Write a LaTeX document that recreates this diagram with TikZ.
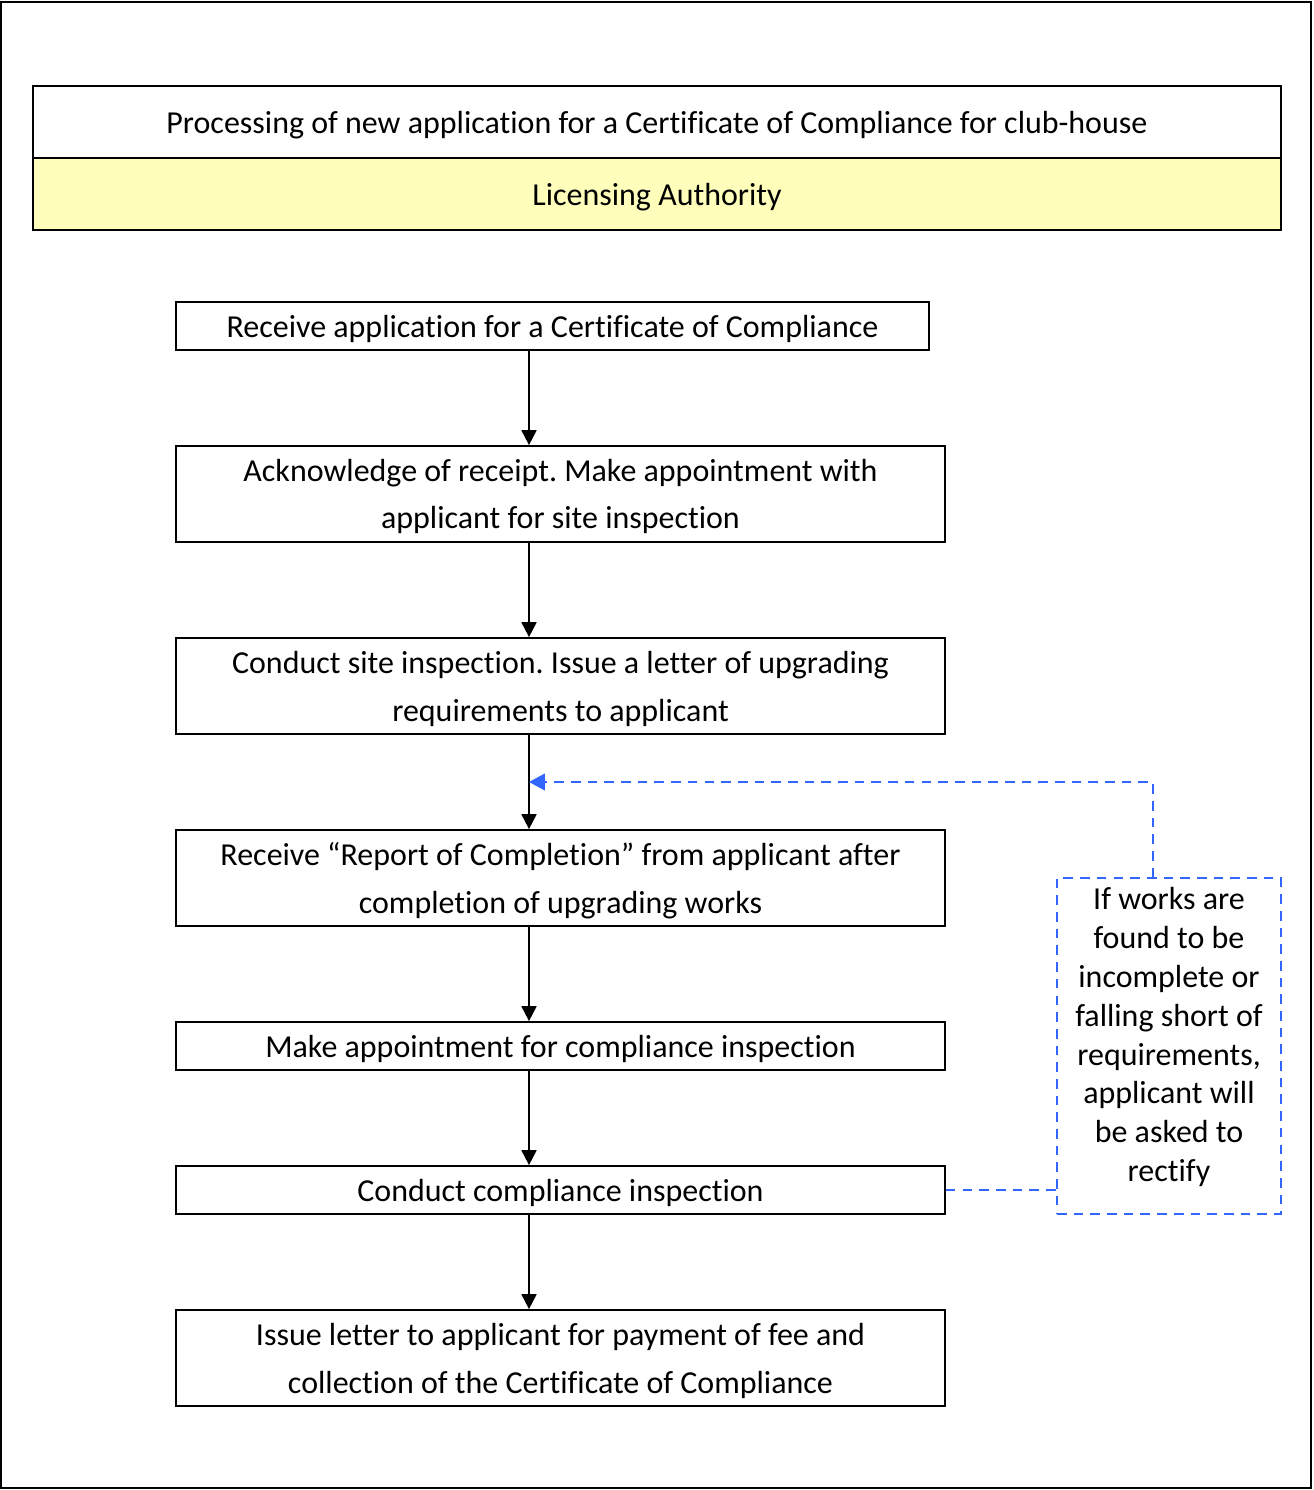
\documentclass[tikz,border=0pt]{standalone}
\usepackage{fontspec}
\setmainfont[Ligatures=NoCommon]{Carlito}
\usepackage{tikz}
\usetikzlibrary{arrows.meta}
\usepackage{xcolor}
\definecolor{noteblue}{RGB}{51,102,255}
\definecolor{authyellow}{RGB}{255,255,187}
\frenchspacing

\begin{document}
\begin{tikzpicture}[
  x=0.02cm, y=-0.02cm,
  font=\fontsize{18.2}{27.2}\selectfont,
  %every node/.style={draw},
  >={Triangle[width=8.5pt,length=8.5pt]}
  ]
  \tikzstyle{step box}=[draw, line width=1pt, inner sep=0pt, text depth=0pt, align=center, minimum width=15.38cm]
  \tikzstyle{short box}=[step box, minimum height=0.96cm]
  \tikzstyle{tall box}=[step box, minimum height=1.92cm]
  \tikzstyle{head box}=[draw, line width=1pt, inner sep=0pt, text depth=0pt, minimum width=24.96cm, minimum height=1.44cm]
  \tikzstyle{note line}=[draw=noteblue, line width=0.85pt, dash pattern=on 5.5pt off 4pt]
  \tikzstyle{flow}=[->, line width=1.1pt]
  \useasboundingbox (0,0) rectangle (1313,1490);
  \draw[line width=0.8pt] (1,2) rectangle (1311,1488);
  % header
  \node(title)[head box] at (657,122) {Processing of new application for a Certificate of Compliance for club-house};
  \node(auth)[head box, fill=authyellow] at (657,194) {Licensing Authority};
  % steps
  \node(s1)[short box, minimum width=15.06cm] at (552.5,326) {Receive application for a Certificate of Compliance};
  \node(s2)[tall box] at (560.5,494) {Acknowledge of receipt. Make appointment with\\applicant for site inspection};
  \node(s3)[tall box] at (560.5,686) {Conduct site inspection. Issue a letter of upgrading\\requirements to applicant};
  \node(s4)[tall box] at (560.5,878) {Receive “Report of Completion” from applicant after\\completion of upgrading works};
  \node(s5)[short box] at (560.5,1046) {Make appointment for compliance inspection};
  \node(s6)[short box] at (560.5,1190) {Conduct compliance inspection};
  \node(s7)[tall box] at (560.5,1358) {Issue letter to applicant for payment of fee and\\collection of the Certificate of Compliance};
  % side note
  \node(note)[note line, inner sep=0pt, minimum width=4.48cm, minimum height=6.72cm] at (1169,1046) {};
  \node(notetext)[align=center, inner sep=0pt, text depth=0pt, font=\fontsize{18.2}{22.1}\selectfont] at ([yshift=6.5pt]note.center)
    {If works are\\found to be\\incomplete or\\falling short of\\requirements,\\applicant will\\be asked to\\rectify};
  \coordinate(spine) at (529,0);
  \coordinate(back) at (1153,782);
  % arrows
  \draw[flow] (s1.south -| spine) -- (s2.north -| spine);
  \draw[flow] (s2.south -| spine) -- (s3.north -| spine);
  \draw[flow] (s3.south -| spine) -- (s4.north -| spine);
  \draw[flow] (s4.south -| spine) -- (s5.north -| spine);
  \draw[flow] (s5.south -| spine) -- (s6.north -| spine);
  \draw[flow] (s6.south -| spine) -- (s7.north -| spine);
  \draw[note line] (s6.east) -- (s6.east -| note.west);
  \draw[note line, -{Triangle[width=9.5pt,length=9pt]}] (note.north -| back) -- (back) -- (back -| spine);
\end{tikzpicture}
\end{document}
